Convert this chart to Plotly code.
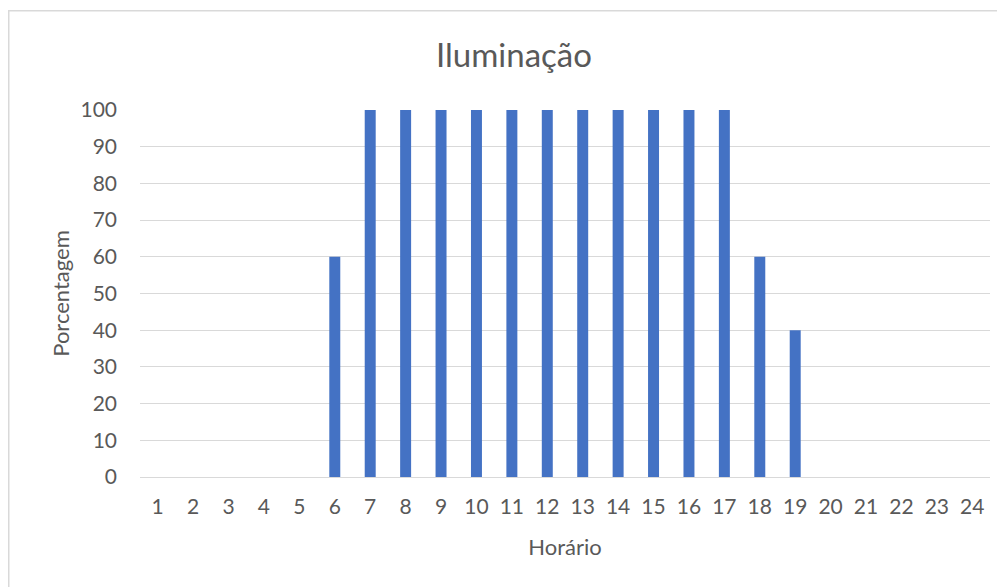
import plotly.graph_objects as go

horas = [str(i) for i in range(1, 25)]
porcentagem = [0, 0, 0, 0, 0, 60, 100, 100, 100, 100, 100, 100, 100, 100, 100, 100, 100, 60, 40, 0, 0, 0, 0, 0]
y_ticks = list(range(0, 101, 10))

# page body has an 8px margin; figure coordinates below compensate for it
W, H = 1005, 587
L, R, T, B = 132, 23, 101.5, 117.5
pw, ph = W - L - R, H - T - B

fig = go.Figure(go.Bar(x=horas, y=porcentagem, marker_color="#4472C4", marker_line_width=0))

font = "Lato, Carlito, Calibri, sans-serif"
fig.update_layout(
    width=W, height=H,
    margin=dict(l=L, r=R, t=T, b=B),
    paper_bgcolor="white", plot_bgcolor="white",
    bargap=0.69,
    showlegend=False,
    font=dict(family=font, color="#595959", size=21),
    title=dict(text="Iluminação", x=(514 - 8) / W, xref="container", xanchor="center",
               y=1 - 47 / H, yanchor="middle", yref="container",
               font=dict(size=33, color="#595959", family=font)),
    xaxis=dict(type="category", showgrid=False, showline=False, zeroline=False,
               ticks="", ticklabelstandoff=15,
               title=dict(text="Horário", standoff=22, font=dict(size=22))),
    yaxis=dict(range=[0, 100], tickvals=y_ticks, showgrid=True, gridcolor="#d9d9d9", gridwidth=1,
               zeroline=True, zerolinecolor="#d9d9d9", zerolinewidth=1, showline=False,
               ticks="", ticklabelstandoff=22,
               title=dict(text="Porcentagem", standoff=4, font=dict(size=22))),
    shapes=[dict(type="rect", xref="paper", yref="paper",
                 x0=(0.75 - L) / pw, x1=(W + 20 - L) / pw,
                 y0=-(H + 20 - (H - B)) / ph, y1=(H - B - 2) / ph,
                 line=dict(color="#d9d9d9", width=1.5), fillcolor="rgba(0,0,0,0)", layer="below")],
)

fig.write_html("out.html")
